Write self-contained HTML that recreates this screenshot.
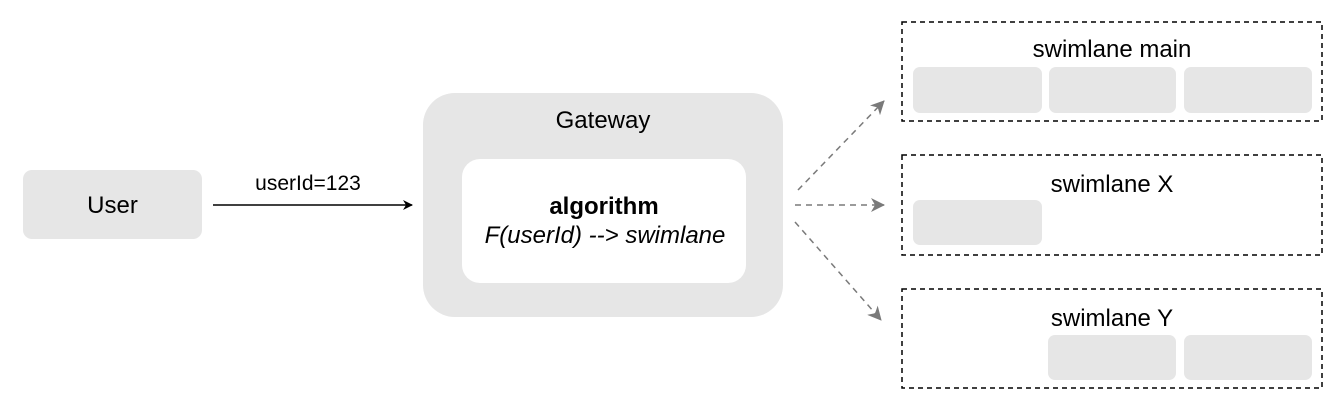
<!DOCTYPE html>
<html><head><style>
body{margin:0;background:#fff;width:1342px;height:412px;overflow:hidden;font-family:"Liberation Sans",Arial,sans-serif;}
</style></head><body>
<svg width="1342" height="412" xmlns="http://www.w3.org/2000/svg" font-family="Liberation Sans, Arial, sans-serif">
<defs>
<marker id="a" markerWidth="10" markerHeight="10" refX="9" refY="5" orient="auto" markerUnits="userSpaceOnUse"><path d="M0,0 L10,5 L0,10 L3,5 Z" fill="#000"/></marker>
<marker id="g" markerWidth="14" markerHeight="14" refX="13" refY="7" orient="auto" markerUnits="userSpaceOnUse"><path d="M0,0 L14,7 L0,14 L4,7 Z" fill="#7a7a7a"/></marker>
</defs>
<rect x="23" y="170" width="179" height="69" rx="9" fill="#e6e6e6"/>
<text x="112.5" y="213" font-size="24" text-anchor="middle">User</text>
<line x1="213" y1="205" x2="412" y2="205" stroke="#000" stroke-width="1.5" marker-end="url(#a)"/>
<text x="308" y="190" font-size="21" text-anchor="middle">userId=123</text>
<rect x="423" y="93" width="360" height="224" rx="32" fill="#e6e6e6"/>
<text x="603" y="128" font-size="24" text-anchor="middle">Gateway</text>
<rect x="462" y="159" width="284" height="124" rx="18" fill="#fff"/>
<text x="604" y="214" font-size="24" font-weight="bold" text-anchor="middle">algorithm</text>
<text x="605" y="243" font-size="24" font-style="italic" text-anchor="middle">F(userId) --&gt; swimlane</text>
<g stroke="#7a7a7a" stroke-width="1.5" stroke-dasharray="6,5" fill="none">
<line x1="798" y1="190" x2="884" y2="101" marker-end="url(#g)"/>
<line x1="795" y1="205" x2="884" y2="205" marker-end="url(#g)"/>
<line x1="795" y1="222" x2="881" y2="320" marker-end="url(#g)"/>
</g>
<g fill="none" stroke="#000" stroke-width="1.5" stroke-dasharray="5,4">
<rect x="902" y="22" width="420" height="99"/>
<rect x="902" y="155" width="420" height="100"/>
<rect x="902" y="289" width="420" height="99"/>
</g>
<g font-size="24" text-anchor="middle">
<text x="1112" y="57">swimlane main</text>
<text x="1112" y="192">swimlane X</text>
<text x="1112" y="326">swimlane Y</text>
</g>
<g fill="#e6e6e6">
<rect x="913" y="67" width="129" height="46" rx="7"/>
<rect x="1049" y="67" width="127" height="46" rx="7"/>
<rect x="1184" y="67" width="128" height="46" rx="7"/>
<rect x="913" y="200" width="129" height="45" rx="7"/>
<rect x="1048" y="335" width="128" height="45" rx="7"/>
<rect x="1184" y="335" width="128" height="45" rx="7"/>
</g>
</svg>
</body></html>
